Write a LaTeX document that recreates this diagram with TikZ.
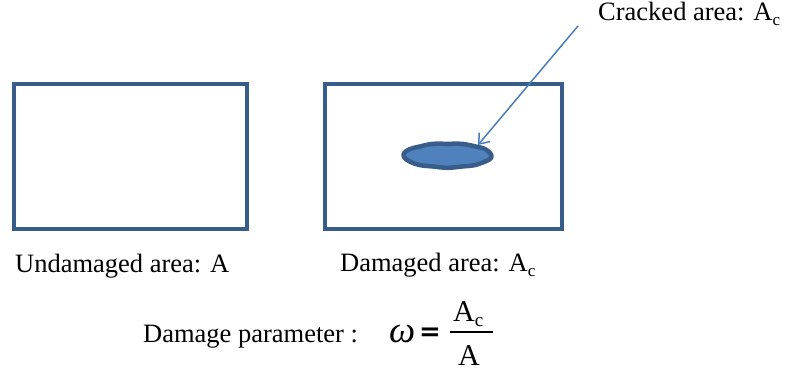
\documentclass[tikz,border=0pt]{standalone}
\usepackage{fontspec}
\setmainfont{Liberation Serif}
\newfontfamily\eqfont{DejaVu Sans}
\usetikzlibrary{arrows.meta}
\definecolor{boxblue}{HTML}{385D8A}
\definecolor{fillblue}{HTML}{4F81BD}
\definecolor{arrowblue}{HTML}{4A7EBB}
\newcommand{\subc}{\raisebox{-5pt}{\fontsize{17}{17}\selectfont c}}
\newcommand{\subcbig}{\raisebox{-5pt}{\fontsize{19}{19}\selectfont c}}
\tikzset{
  areabox/.style={draw=boxblue, line width=4pt},
  lbl/.style={anchor=base west, inner sep=0pt, font=\fontsize{26.5}{30}\selectfont},
}
\begin{document}
\begin{tikzpicture}[x=1pt,y=-1pt]
\useasboundingbox (0,0) rectangle (788,371);
\draw[areabox] (13.5,84) rectangle (247,229);
\draw[areabox] (325,84) rectangle (562,229);
\draw[draw=boxblue, fill=fillblue, line width=4.5pt, line join=round]
  plot[smooth cycle, domain=0:350, samples=36, variable=\t]
  ({447.5+44*cos(\t)*(1+0.01*sin(6*\t))}, {155.5+12*sin(\t)*(1+0.03*sin(9*\t))});
\coordinate (crack) at (478,145);
\node[lbl] (cracked) at (598,21) {Cracked area: A\subc};
\coordinate (astart) at (578,26);
\draw[arrowblue, line width=1.5pt, -{Straight Barb[length=9pt,width=14pt]}] (astart) -- (crack);
\node[lbl] (undam) at (15,273) {Undamaged area: A};
\node[lbl] (dam) at (340,272) {Damaged area: A\subc};
\node[lbl] (param) at (143,343) {Damage parameter :};
\node[lbl, font=\fontsize{37}{38}\selectfont\itshape] (omega) at (389,343) {ω};
\node[lbl, font=\eqfont\fontsize{26}{28}\selectfont\bfseries] (eq) at (419,341) {=};
\node[lbl, font=\fontsize{30}{32}\selectfont] (num) at (453,322) {A\subcbig};
\node[lbl, font=\fontsize{30}{32}\selectfont] (den) at (458,366) {A};
\draw[line width=1.2pt] (450,332) -- (493,332);
\end{tikzpicture}
\end{document}
